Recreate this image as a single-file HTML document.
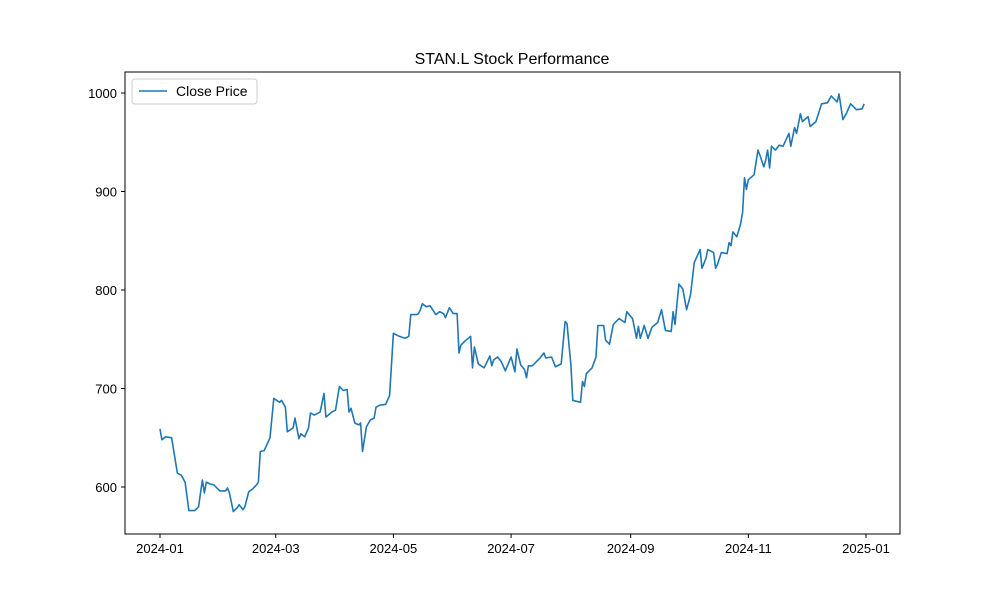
<!DOCTYPE html>
<html><head><meta charset="utf-8"><style>
body{margin:0;background:#fff;font-family:"Liberation Sans","DejaVu Sans",sans-serif;}
</style></head><body>
<svg id="chart" width="1000" height="600" viewBox="0 0 1000 600" xmlns="http://www.w3.org/2000/svg">
<rect width="1000" height="600" fill="#fff"/>
<text x="512" y="64" text-anchor="middle" font-size="16" font-family="Liberation Sans, DejaVu Sans, sans-serif">STAN.L Stock Performance</text>
<g id="grid"></g>
<path id="line" fill="none" stroke="#1f77b4" stroke-width="1.6" stroke-linejoin="round"/>
<rect x="125" y="72" width="775" height="462" fill="none" stroke="#000" stroke-width="1"/>
<g id="axes" font-size="13" font-family="Liberation Sans, DejaVu Sans, sans-serif"></g>
<g>
<rect x="132" y="79" width="125" height="25" rx="3" fill="#fff" stroke="#ccc"/>
<line x1="139" y1="91" x2="167" y2="91" stroke="#1f77b4" stroke-width="1.6"/>
<text x="176" y="96" font-size="14">Close Price</text>
</g>
</svg>
<script>
const days=[0,1,3,6,9,11,13,15,17,18,20,21,22,23,24,26,28,30,31,34,35,36,38,40,41,43,44,46,48,50,51,52,54,57,59,62,63,65,66,69,70,72,73,75,77,78,80,83,85,86,89,91,93,95,97,98,99,101,103,104,105,107,109,111,112,114,117,119,121,124,127,129,130,133,134,135,136,138,140,143,145,147,148,150,152,154,155,156,158,161,162,163,165,168,171,172,173,175,177,179,182,184,185,187,189,190,191,193,197,199,200,203,205,208,210,211,213,214,218,219,220,221,224,226,227,230,231,233,235,237,238,241,242,245,247,248,249,251,253,255,258,260,262,265,266,267,269,271,273,275,277,280,281,283,284,287,288,289,291,294,295,296,297,299,301,302,303,304,305,308,310,311,313,314,315,316,317,319,321,323,326,327,329,330,332,333,336,337,340,343,346,348,351,352,354,356,358,361,364,365];
const closes=[659,648,651,650,614,612,605,576,576,576,580,594,607,594,605,603,602,598,596,596,599,594,575,579,582,577,580,595,598,602,605,636,637,650,690,686,688,681,656,660,670,649,654,651,660,675,673,676,695,671,676,678,702,698,699,676,680,665,663,665,636,661,668,670,681,683,684,693,756,753,751,753,775,775,776,780,786,783,784,775,778,776,772,782,776,776,736,744,748,753,721,742,725,721,733,723,729,732,727,718,732,717,740,724,719,711,723,723,731,736,731,732,722,725,768,766,724,688,686,707,702,715,721,732,764,764,749,745,765,769,771,767,778,771,751,763,751,764,751,762,767,780,759,758,778,765,806,801,780,795,828,841,822,832,841,838,822,826,838,837,848,845,859,854,867,879,914,902,912,917,942,937,925,932,942,924,946,942,947,946,959,946,965,959,979,971,976,966,971,989,990,997,991,999,973,980,989,983,984,989];
const yTicks=[600,700,800,900,1000];
const xTickDays=[0,60,121,182,244,305,366];
const xTickLabels=["2024-01","2024-03","2024-05","2024-07","2024-09","2024-11","2025-01"];
const NS="http://www.w3.org/2000/svg";
const xs=d=>160+d*1.929;
const ys=v=>93+(1000-v)*0.985;
let dstr="";
days.forEach((d,i)=>{dstr+=(i?"L":"M")+xs(d).toFixed(1)+","+ys(closes[i]).toFixed(1);});
document.getElementById("line").setAttribute("d",dstr);
const ax=document.getElementById("axes");
yTicks.forEach(v=>{
 const y=ys(v);
 const l=document.createElementNS(NS,"line");
 l.setAttribute("x1",121);l.setAttribute("x2",125);l.setAttribute("y1",y);l.setAttribute("y2",y);l.setAttribute("stroke","#000");
 
 
 ax.appendChild(l);
 const t=document.createElementNS(NS,"text");
 t.setAttribute("x",117);t.setAttribute("y",y+5);t.setAttribute("text-anchor","end");t.textContent=v;
 
 
 ax.appendChild(t);
});
xTickDays.forEach((d,i)=>{
 const x=xs(d);
 const l=document.createElementNS(NS,"line");
 l.setAttribute("x1",x);l.setAttribute("x2",x);l.setAttribute("y1",534);l.setAttribute("y2",538);l.setAttribute("stroke","#000");
 
 
 ax.appendChild(l);
 const t=document.createElementNS(NS,"text");
 t.setAttribute("x",x);t.setAttribute("y",553);t.setAttribute("text-anchor","middle");t.textContent=xTickLabels[i];
 
 
 ax.appendChild(t);
});
</script>
</body></html>
